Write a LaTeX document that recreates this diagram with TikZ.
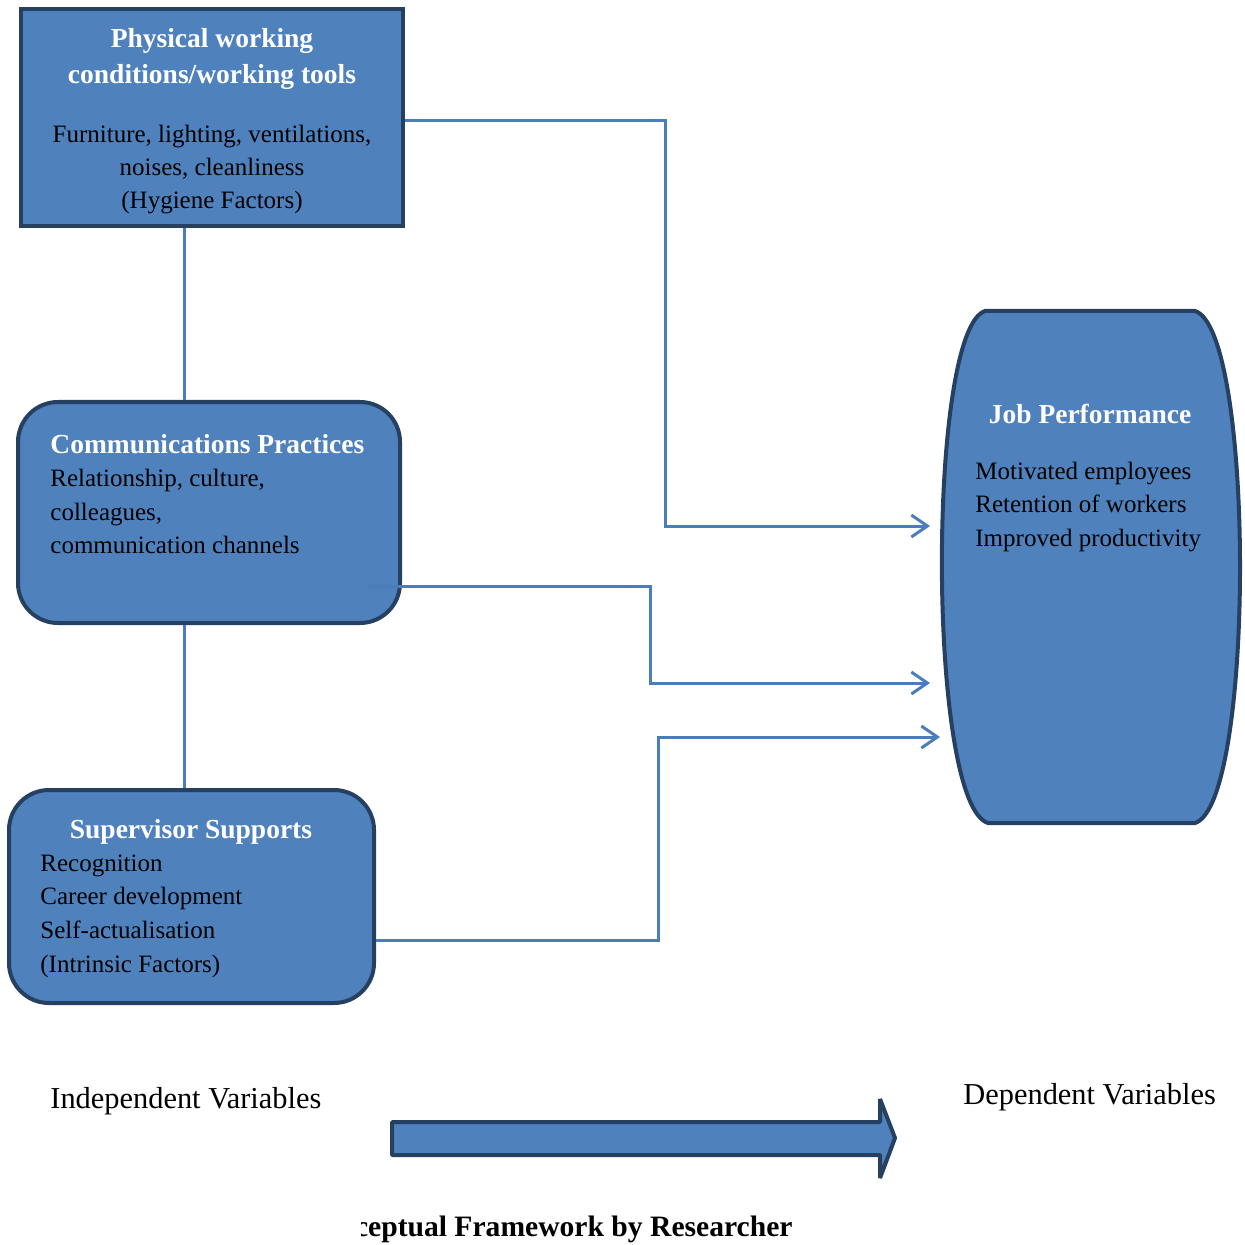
\documentclass[tikz,border=0pt]{standalone}
\usepackage{fontspec}
\setmainfont{Liberation Serif}
\usepackage{tikz}
\usetikzlibrary{arrows.meta}
\definecolor{boxfill}{RGB}{79,129,189}
\definecolor{boxline}{RGB}{37,64,97}
\definecolor{linkcol}{RGB}{74,126,187}
\begin{document}
\begin{tikzpicture}[
      x=0.5pt,y=-0.5pt,
      every node/.style={font=\fontsize{12.5}{16.8}\selectfont},
      varbox/.style={rectangle,draw=boxline,fill=boxfill,line width=2pt,minimum width=191pt,minimum height=108.5pt,inner sep=0pt},
      roundbox/.style={varbox,rounded corners=20pt},
      title/.style={text=white,font=\fontsize{13.75}{18}\selectfont\bfseries,align=center,inner sep=0pt},
      body/.style={align=left,inner sep=0pt},
      caption/.style={anchor=west,inner sep=0pt,font=\fontsize{15.2}{18}\selectfont},
      link/.style={draw=linkcol,line width=1.5pt},
      arrow/.style={link,-{Straight Barb[length=8pt,width=11pt,line width=1.5pt]}}
    ]
    \useasboundingbox (0,0) rectangle (1245,1245);
    % independent variables
    \node[varbox] (physical) at (212,117.5) {};
    \node[roundbox,minimum height=110.5pt] (comm) at (209,512.5) {};
    \node[roundbox,minimum width=182.5pt,minimum height=106.5pt] (super) at (191.5,896.5) {};
    \node[title] (physicaltitle) at (212,59) {Physical working\\conditions/working tools};
    \node[body,align=center,font=\fontsize{12.5}{16.5}\selectfont] (physicaltext) at (212,170) {Furniture, lighting, ventilations,\\noises, cleanliness\\(Hygiene Factors)};
    \node[body,anchor=west] (commtext) at (50,494) {\textcolor{white}{\fontsize{13.75}{16.8}\selectfont\bfseries Communications Practices}\\Relationship, culture,\\colleagues,\\communication channels};
    \node[title] (supertitle) at (191,832) {Supervisor Supports};
    \node[body,anchor=west] (supertext) at (40,916) {Recognition\\Career development\\Self-actualisation\\(Intrinsic Factors)};
    % dependent variable
    \draw[draw=boxline,fill=boxfill,line width=2pt] (985,311) -- (1195,311)
      .. controls (1255,330) and (1255,804) .. (1195,823) -- (988,823)
      .. controls (927,804) and (927,330) .. cycle;
    \node[title] (jobtitle) at (1090,414) {Job Performance};
    \node[body,anchor=west] (jobtext) at (975,507) {Motivated employees\\Retention of workers\\Improved productivity};
    \coordinate (in1) at (930,526);
    \coordinate (in2) at (930,683);
    \coordinate (in3) at (940,737);
    % connectors
    \draw[link] ([xshift=-14pt]physical.south) -- ([xshift=-12.5pt]comm.north);
    \draw[link] ([xshift=-12.5pt]comm.south) -- ([xshift=-3.75pt]super.north);
    \draw[arrow] ([yshift=-1.75pt]physical.east) -| (665,526) -- (in1);
    \draw[arrow] ([xshift=-17.5pt,yshift=-36.75pt]comm.east) -| (650,683) -- (in2);
    \draw[arrow] ([yshift=-21.75pt]super.east) -| (658,737) -- (in3);
    % captions
    \node[caption] (indep) at (50,1101) {Independent Variables};
    \node[caption] (dep) at (963,1097) {Dependent Variables};
    \draw[draw=boxline,fill=boxfill,line width=2pt,line join=bevel] (392,1122) -- (880,1122) -- (880,1099)
      -- (895,1138) -- (880,1178) -- (880,1155) -- (392,1155) -- cycle;
    \begin{scope}
      \clip (361,1200) rectangle (900,1245);
      \node[anchor=east,inner sep=0pt,font=\fontsize{14.8}{18}\selectfont\bfseries] (framework) at (793,1229) {Conceptual Framework by Researcher};
    \end{scope}
  \end{tikzpicture}
\end{document}
